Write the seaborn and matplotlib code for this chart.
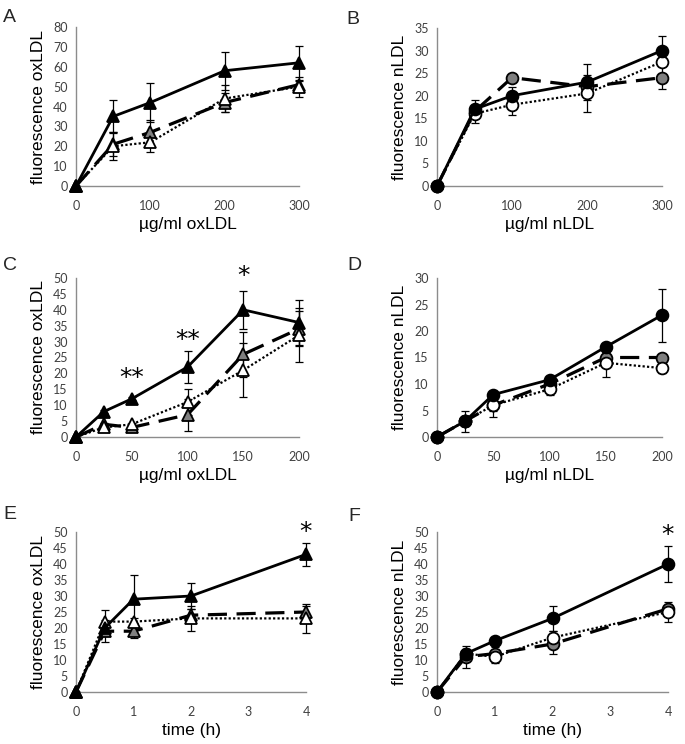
import numpy as np
import pandas as pd
import seaborn as sns
import matplotlib
matplotlib.use("Agg")
import matplotlib.pyplot as plt

sns.set_theme(style="white")
plt.rcParams['font.family'] = ['Liberation Sans', 'DejaVu Sans']

# ---------------- data ----------------
xA = [0, 50, 100, 200, 300]
A_solid = [0, 35, 42, 58, 62];   A_solid_err = [0, 8.5, 10, 9.5, 8.5]
A_dash = [0, 21, 27, 42, 51];    A_dash_err = [0, 6, 6, 5, 2]
A_dot = [0, 20, 22, 44, 50];     A_dot_err = [0, 7, 5, 7, 5]

xB = [0, 50, 100, 200, 300]
B_solid = [0, 17, 20, 23, 30];   B_solid_err = [0, 2, 2, 4, 3.2]
B_dash = [0, 16.5, 24, 22, 24];  B_dash_err = [0, 1, 0.5, 1.5, 2.6]
B_dot = [0, 16, 18, 20.5, 27.5]; B_dot_err = [0, 2, 2.2, 4, 1]

xC = [0, 25, 50, 100, 150, 200]
C_solid = [0, 8, 12, 22, 40, 36];  C_solid_err = [0, 0.5, 0.5, 5, 6, 7]
C_dash = [0, 4, 3, 7, 26, 34];     C_dash_err = [0, 0.5, 0.5, 5, 7, 5.5]
C_dot = [0, 3, 4, 11, 21, 32];     C_dot_err = [0, 0.5, 0.5, 4, 8.5, 8.5]

xD = [0, 25, 50, 100, 150, 200]
D_solid = [0, 3, 8, 10.8, 17, 23];  D_solid_err = [0, 0.5, 0.5, 0.5, 0.5, 5]
D_dash = [0, 3, 6, 10, 15, 15];     D_dash_err = [0, 1, 1, 1, 1, 0.5]
D_dot = [0, 3, 6, 9, 14, 13];       D_dot_err = [0, 2, 2.3, 1, 2.7, 1]

xE = [0, 0.5, 1, 2, 4]
E_solid = [0, 20, 29, 30, 43];   E_solid_err = [0, 1, 7.5, 4, 3.5]
E_dash = [0, 19, 19, 24, 25];    E_dash_err = [0, 3.5, 2, 2, 2]
E_dot = [0, 22, 22, 23, 23];     E_dot_err = [0, 3.5, 1, 4, 4.5]

xF = [0, 0.5, 1, 2, 4]
F_solid = [0, 12, 16, 23, 40];   F_solid_err = [0, 1, 1, 4, 5.7]
F_dash = [0, 11, 12, 15, 26];    F_dash_err = [0, 3.5, 2, 3, 1]
F_dot = [0, 12, 11, 17, 25];     F_dot_err = [0, 1.5, 2, 2, 3]

panels = [
    dict(letter="A", x=xA, s=(A_solid, A_solid_err), d=(A_dash, A_dash_err), o=(A_dot, A_dot_err),
         marker="^", ylim=80, ystep=10, xticks=[0, 100, 200, 300], xmax=300,
         ylabel="fluorescence oxLDL", xlabel="µg/ml oxLDL", stars=[]),
    dict(letter="B", x=xB, s=(B_solid, B_solid_err), d=(B_dash, B_dash_err), o=(B_dot, B_dot_err),
         marker="o", ylim=35, ystep=5, xticks=[0, 100, 200, 300], xmax=300,
         ylabel="fluorescence nLDL", xlabel="µg/ml nLDL", stars=[]),
    dict(letter="C", x=xC, s=(C_solid, C_solid_err), d=(C_dash, C_dash_err), o=(C_dot, C_dot_err),
         marker="^", ylim=50, ystep=5, xticks=[0, 50, 100, 150, 200], xmax=200,
         ylabel="fluorescence oxLDL", xlabel="µg/ml oxLDL",
         stars=[(50, 18.5, "**"), (100, 30.5, "**"), (150, 50.5, "*")]),
    dict(letter="D", x=xD, s=(D_solid, D_solid_err), d=(D_dash, D_dash_err), o=(D_dot, D_dot_err),
         marker="o", ylim=30, ystep=5, xticks=[0, 50, 100, 150, 200], xmax=200,
         ylabel="fluorescence nLDL", xlabel="µg/ml nLDL", stars=[]),
    dict(letter="E", x=xE, s=(E_solid, E_solid_err), d=(E_dash, E_dash_err), o=(E_dot, E_dot_err),
         marker="^", ylim=50, ystep=5, xticks=[0, 1, 2, 3, 4], xmax=4,
         ylabel="fluorescence oxLDL", xlabel="time (h)", stars=[(4, 50, "*")]),
    dict(letter="F", x=xF, s=(F_solid, F_solid_err), d=(F_dash, F_dash_err), o=(F_dot, F_dot_err),
         marker="o", ylim=50, ystep=5, xticks=[0, 1, 2, 3, 4], xmax=4,
         ylabel="fluorescence nLDL", xlabel="time (h)", stars=[(4, 49, "*")]),
]

fig = plt.figure(figsize=(6.85, 7.44), dpi=100)
W, H = 685, 744
# axes boxes in pixels: (left, top, right, bottom)
boxes = [
    (76, 27, 299, 186), (437, 28, 662, 186),
    (76, 278, 299, 437), (437, 278, 662, 437),
    (76, 532, 306, 692), (437, 532, 668, 692),
]
letter_pos = [(3, 22), (346, 24), (3, 270), (347, 270), (3, 519), (348, 521)]
axis_gray = "#8c8c8c"
tick_color = "#404040"

for p, (l, t, r, b), (lx, ly) in zip(panels, boxes, letter_pos):
    ax = fig.add_axes([l / W, 1 - b / H, (r - l) / W, (b - t) / H])
    x = p["x"]
    styles = [
        (p["d"], (0, (6, 3)), 2.3, "#7f7f7f"),
        (p["o"], (0, (1, 1)), 1.6, "white"),
        (p["s"], "-", 2.0, "black"),
    ]
    for (vals, errs), ls, lw, fc in styles:
        ax.errorbar(x, vals, yerr=errs, fmt="none", ecolor="black", elinewidth=0.9,
                    capsize=3, capthick=0.9, clip_on=False, zorder=2)
    for (vals, errs), ls, lw, fc in styles:
        df = pd.DataFrame({"x": x, "y": vals})
        sns.lineplot(data=df, x="x", y="y", ax=ax, color="black", linestyle=ls, linewidth=lw,
                     marker=p["marker"], markersize=9 if p["marker"] == "^" else 8.5,
                     markerfacecolor=fc, markeredgecolor="black", markeredgewidth=1.3,
                     clip_on=False, zorder=3)
    ax.set_xlim(0, p["xmax"])
    ax.set_ylim(0, p["ylim"])
    ax.set_yticks(np.arange(0, p["ylim"] + 0.1, p["ystep"]))
    ax.set_xticks(p["xticks"])
    for sp in ["top", "right"]:
        ax.spines[sp].set_visible(False)
    for sp in ["left", "bottom"]:
        ax.spines[sp].set_color(axis_gray)
        ax.spines[sp].set_linewidth(1.0)
    ax.tick_params(axis="both", which="both", direction="out", length=3, width=1,
                   color=axis_gray, labelcolor=tick_color, labelsize=9, pad=3)
    ax.tick_params(axis="x", pad=7)
    for lab in ax.get_xticklabels() + ax.get_yticklabels():
        lab.set_family(["Lato", "DejaVu Sans"])
    ax.set_ylabel(p["ylabel"], fontsize=12.5, labelpad=5, color="black")
    ax.set_xlabel(p["xlabel"], fontsize=12.5, labelpad=4, color="black")
    for sx, sy, st in p["stars"]:
        ax.text(sx, sy, st, ha="center", va="center", fontsize=18, color="black",
                family="DejaVu Sans", clip_on=False)
    fig.text(lx / W, 1 - ly / H, p["letter"], fontsize=14, ha="left", va="baseline")

fig.savefig("out.png", dpi=100)
